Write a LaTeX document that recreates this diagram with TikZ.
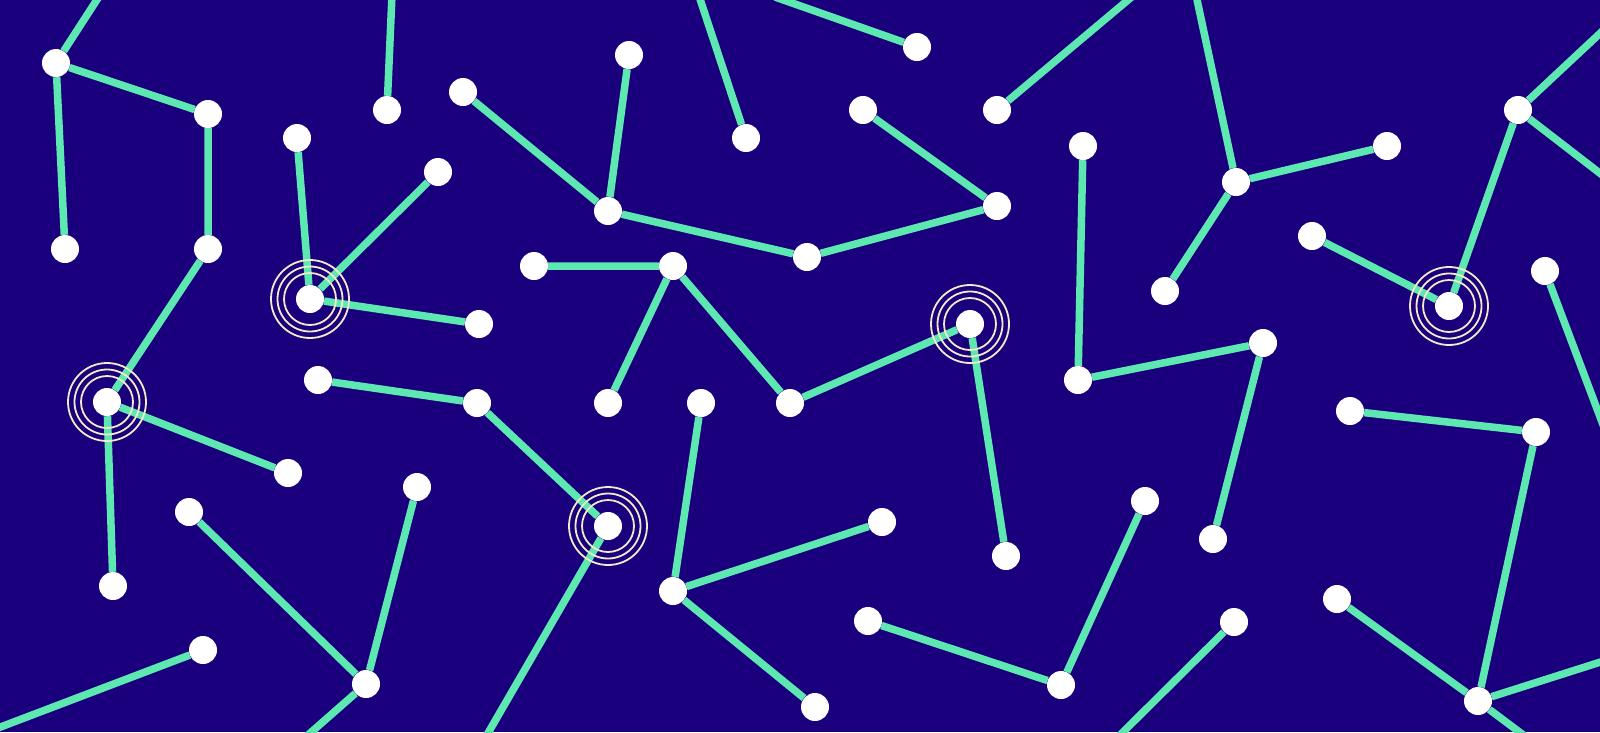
\documentclass[tikz,border=0pt]{standalone}
\usetikzlibrary{calc}
\definecolor{bgblue}{HTML}{1B007E}
\definecolor{linkgreen}{HTML}{5DE8B1}
\definecolor{ringcream}{HTML}{F2EAC8}
\pgfdeclarelayer{bg}
\pgfdeclarelayer{mid}
\pgfsetlayers{bg,mid,main}
\tikzset{
  dot/.style={circle, fill=white, draw=none, inner sep=0pt, minimum size=28pt},
  link/.style={draw=linkgreen, line width=7.5pt},
  ringline/.style={draw=ringcream, line width=1.8pt}
}
\newcommand{\rings}[1]{%
  \draw[ringline] (#1) circle (26pt);
  \draw[ringline] (#1) circle (32.5pt);
  \draw[ringline] (#1) circle (39pt);}
\begin{document}
\begin{tikzpicture}[x=1pt,y=-1pt]
\useasboundingbox (0,0) rectangle (1600,732);
\clip (0,0) rectangle (1600,732);
% nodes
\node[dot] (a1) at (56,63) {};
\node[dot] (a2) at (208,114) {};
\node[dot] (a3) at (65,249) {};
\node[dot] (a4) at (208,249) {};
\node[dot] (a5) at (107,402) {};
\node[dot] (a6) at (288,473) {};
\node[dot] (a7) at (113,586) {};
\coordinate (ta1) at (100,-5);
\node[dot] (b1) at (387,110) {};
\node[dot] (b2) at (297,138) {};
\node[dot] (b3) at (310,299) {};
\node[dot] (b4) at (438,172) {};
\node[dot] (b5) at (479,324) {};
\coordinate (tb1) at (392,-5);
\node[dot] (c1) at (463,92) {};
\node[dot] (c2) at (629,55) {};
\node[dot] (c3) at (608,211) {};
\node[dot] (c4) at (807,257) {};
\node[dot] (c5) at (997,206) {};
\node[dot] (c6) at (863,110) {};
\node[dot] (d1) at (746,138) {};
\node[dot] (d2) at (917,47) {};
\coordinate (td1) at (699,-4);
\coordinate (td2) at (775,-3);
\node[dot] (e1) at (534,266) {};
\node[dot] (e2) at (673,266) {};
\node[dot] (e3) at (608,403) {};
\node[dot] (e4) at (790,403) {};
\node[dot] (e5) at (970,324) {};
\node[dot] (e6) at (1006,556) {};
\node[dot] (f1) at (318,380) {};
\node[dot] (f2) at (477,403) {};
\node[dot] (f3) at (608,526) {};
\coordinate (bf3) at (484,740);
\node[dot] (g1) at (701,403) {};
\node[dot] (g2) at (673,591) {};
\node[dot] (g3) at (882,522) {};
\node[dot] (g4) at (815,707) {};
\node[dot] (h1) at (189,512) {};
\node[dot] (h2) at (417,487) {};
\node[dot] (h3) at (366,684) {};
\node[dot] (h4) at (203,650) {};
\coordinate (bh3) at (300,742);
\coordinate (lh4) at (-10,731);
\node[dot] (i1) at (997,110) {};
\node[dot] (i2) at (1083,146) {};
\node[dot] (i3) at (1078,380) {};
\node[dot] (i4) at (1263,343) {};
\node[dot] (i5) at (1213,539) {};
\coordinate (ti1) at (1134,-5);
\node[dot] (j1) at (1236,182) {};
\node[dot] (j2) at (1387,146) {};
\node[dot] (j3) at (1165,291) {};
\coordinate (tj1) at (1196,-5);
\node[dot] (k1) at (1312,236) {};
\node[dot] (k2) at (1449,306) {};
\node[dot] (k3) at (1518,110) {};
\node[dot] (k4) at (1545,271) {};
\coordinate (rk3a) at (1610,24);
\coordinate (rk3b) at (1610,181);
\coordinate (rk4) at (1605,430);
\node[dot] (l1) at (1350,411) {};
\node[dot] (l2) at (1536,432) {};
\node[dot] (l3) at (1478,701) {};
\node[dot] (l4) at (1337,599) {};
\coordinate (rl3) at (1610,659);
\coordinate (bl3) at (1530,740);
\node[dot] (m1) at (868,621) {};
\node[dot] (m2) at (1061,685) {};
\node[dot] (m3) at (1145,501) {};
\node[dot] (m4) at (1234,622) {};
\coordinate (bm4) at (1115,740);
% background and links
\begin{pgfonlayer}{bg}
\fill[bgblue] (0,0) rectangle (1600,732);
\draw[link] (ta1) -- (a1) -- (a2) -- (a4) -- (a5) -- (a6);
\draw[link] (a1) -- (a3);
\draw[link] (a5) -- (a7);
\draw[link] (tb1) -- (b1);
\draw[link] (b2) -- (b3) -- (b4);
\draw[link] (b3) -- (b5);
\draw[link] (c1) -- (c3) -- (c4) -- (c5) -- (c6);
\draw[link] (c2) -- (c3);
\draw[link] (td1) -- (d1);
\draw[link] (td2) -- (d2);
\draw[link] (e1) -- (e2) -- (e3);
\draw[link] (e2) -- (e4) -- (e5) -- (e6);
\draw[link] (f1) -- (f2) -- (f3) -- (bf3);
\draw[link] (g1) -- (g2) -- (g3);
\draw[link] (g2) -- (g4);
\draw[link] (h1) -- (h3) -- (h2);
\draw[link] (h3) -- (bh3);
\draw[link] (h4) -- (lh4);
\draw[link] (ti1) -- (i1);
\draw[link] (i2) -- (i3) -- (i4) -- (i5);
\draw[link] (tj1) -- (j1) -- (j2);
\draw[link] (j1) -- (j3);
\draw[link] (k1) -- (k2) -- (k3) -- (rk3a);
\draw[link] (k3) -- (rk3b);
\draw[link] (k4) -- (rk4);
\draw[link] (l1) -- (l2) -- (l3) -- (l4);
\draw[link] (l3) -- (rl3);
\draw[link] (l3) -- (bl3);
\draw[link] (m1) -- (m2) -- (m3);
\draw[link] (m4) -- (bm4);
\end{pgfonlayer}
\begin{pgfonlayer}{mid}
\rings{a5}
\rings{b3}
\rings{e5}
\rings{f3}
\rings{k2}
\end{pgfonlayer}
\end{tikzpicture}
\end{document}
